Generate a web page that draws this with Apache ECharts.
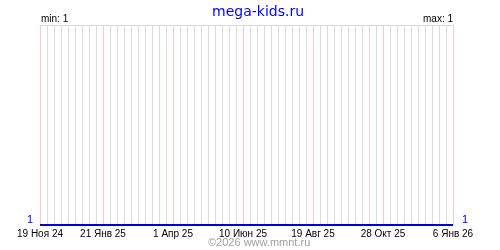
<!DOCTYPE html>
<html><head><meta charset="utf-8">
<script src="https://cdn.jsdelivr.net/npm/echarts@6/dist/echarts.min.js"></script>
<style>html,body{margin:0;padding:0;background:#fff}#c{width:500px;height:250px}</style>
</head><body><div id="c"></div>
<script>
var startDate = '2024-11-19';
var endDate = '2026-01-06';
var labelDates = ['2024-11-19','2025-01-21','2025-04-01','2025-06-10','2025-08-19','2025-10-28','2026-01-06'];
var tickLabels = ['19 Ноя 24','21 Янв 25','1 Апр 25','10 Июн 25','19 Авг 25','28 Окт 25','6 Янв 26'];
var seriesDates = ['2024-11-19','2025-01-21','2025-04-01','2025-06-10','2025-08-19','2025-10-28','2026-01-06'];
var seriesValues = [1,1,1,1,1,1,1];
var titleText = 'mega-kids.ru';
var minText = 'min: 1';
var maxText = 'max: 1';
var footerText = '©2026 www.mmnt.ru';

function dayIdx(s){var p=s.split('-');var q=startDate.split('-');
  return Math.round((Date.UTC(+p[0],p[1]-1,+p[2])-Date.UTC(+q[0],q[1]-1,+q[2]))/86400000);}
var maxDay = dayIdx(endDate);
var labelMap = {};
labelDates.forEach(function(d,i){labelMap[dayIdx(d)] = tickLabels[i];});
var lineData = seriesDates.map(function(d,i){return [dayIdx(d), seriesValues[i]];});
var pinkData = labelDates.map(function(d){return [dayIdx(d), 1];});

var chart = echarts.init(document.getElementById('c'), null, {renderer:'canvas'});
chart.setOption({
  animation:false,
  grid:{left:40,right:47,top:25,bottom:25,containLabel:false},
  title:{text:titleText,left:207,top:0,textStyle:{color:'#0000ff',fontFamily:'DejaVu Sans',fontSize:14,fontWeight:'normal'}},
  graphic:[
    {type:'text',left:41,top:14,style:{text:minText,fill:'#000',font:'10px "Liberation Sans"'}},
    {type:'text',right:47,top:14,style:{text:maxText,fill:'#000',font:'10px "Liberation Sans"'}},
    {type:'text',left:208,top:237,style:{text:footerText,fill:'#a0a0a0',font:'11px "Liberation Sans"'}}
  ],
  xAxis:{type:'value',min:0,max:maxDay,interval:7,
    axisLine:{show:false},axisTick:{show:false},
    splitLine:{show:true,lineStyle:{color:'#dcdcdc',width:1}},
    axisLabel:{show:true,margin:4,showMinLabel:true,showMaxLabel:true,color:'#000',
      fontFamily:'Liberation Sans',fontSize:10,
      formatter:function(v){return labelMap[v]||'';}}
  },
  yAxis:[
    {type:'value',min:1,max:2,interval:1,position:'left',
      axisLine:{show:false},axisTick:{show:false},
      splitLine:{show:true,lineStyle:{color:'#dcdcdc'}},
      axisLabel:{margin:7,color:'#0000ff',fontFamily:'Liberation Sans',fontSize:11,verticalAlign:'bottom',
        formatter:function(v){return v===1?'1':'';}}},
    {type:'value',min:1,max:2,interval:1,position:'right',
      axisLine:{show:false},axisTick:{show:false},splitLine:{show:false},
      axisLabel:{margin:9,color:'#0000ff',fontFamily:'Liberation Sans',fontSize:11,verticalAlign:'bottom',
        formatter:function(v){return v===1?'1':'';}}}
  ],
  series:[
    {type:'custom',data:pinkData,z:3,silent:true,clip:false,encode:{x:0,y:1},
      renderItem:function(params,api){
        var top=api.coord([api.value(0),2]);
        var bot=api.coord([api.value(0),1]);
        var x=Math.round(top[0])+0.5;
        return {type:'line',shape:{x1:x,y1:Math.round(top[1])+0.5,x2:x,y2:Math.round(bot[1])},
          style:{stroke:'#ffc4c4',lineWidth:1}};
      }},
    {type:'line',data:lineData,z:5,showSymbol:false,symbol:'none',
      lineStyle:{color:'#0000dd',width:2}}
  ]
});
</script></body></html>
